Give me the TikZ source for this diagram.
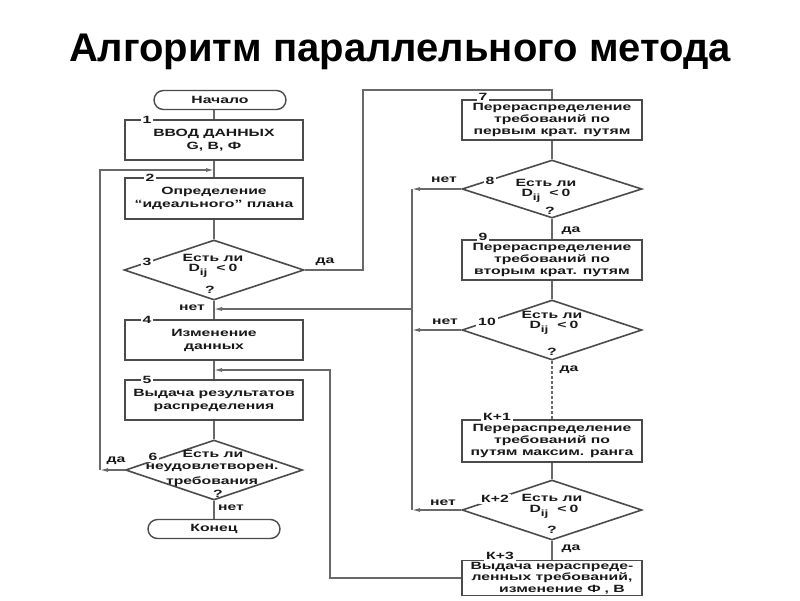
\documentclass[tikz,border=0pt]{standalone}
\usepackage{fontspec}
\setmainfont{Liberation Sans}
\newfontfamily\df{Liberation Sans}[FakeStretch=1.5]
\usetikzlibrary{shapes.geometric,arrows.meta}
\definecolor{bord}{RGB}{75,75,75}
\definecolor{conn}{RGB}{105,105,105}
\definecolor{txt}{RGB}{25,25,25}
\newcommand\Dij{D\raisebox{-3.5pt}{\fontsize{9}{9}\selectfont ij}\hspace{9pt}<\hspace{3pt}0}
\begin{document}
\begin{tikzpicture}[x=1pt,y=-1pt,
  every node/.style={inner sep=0pt, font=\df\bfseries\fontsize{10.5}{13}\selectfont, text=txt},
  box/.style={draw=bord, line width=1.6pt, minimum width=178pt, minimum height=40pt, align=center},
  rbox/.style={box, minimum width=180pt, font=\df\bfseries\fontsize{10.5}{12.3}\selectfont},
  term/.style={draw=bord, line width=1.4pt, rounded corners=9.5pt, minimum width=132pt, minimum height=19pt},
  dia/.style={draw=bord, line width=1.6pt, shape=diamond, minimum width=180pt, minimum height=60pt, inner sep=0pt},
  lbl/.style={fill=white, inner xsep=2pt, inner ysep=1pt},
  conn/.style={draw=conn, line width=1.2pt},
  arr/.style={-{Latex[length=8pt,width=4pt]}}
]
\useasboundingbox[fill=white] (0,0) rectangle (800,600);
\node[font=\fontsize{40}{42}\selectfont\bfseries, text=black, anchor=base] (title) at (400,61) {Алгоритм параллельного метода};

% left column
\node[term] (start) at (220,100) {Начало};
\node[box] (b1) at (214,140) {ВВОД ДАННЫХ\\G, B, Ф};
\node[lbl] (l1) at (147,120) {1};
\node[box, minimum height=41pt] (b2) at (214,198.5) {Определение\\“идеального” плана};
\node[lbl] (l2) at (150,178) {2};
\node[dia] (d3) at (214,270) {};
\node (t3a) at (213,258) {Есть ли};
\node (t3b) at (213,271) {\Dij};
\node (t3c) at (210,290) {?};
\node[lbl] (l3) at (147,262) {3};
\node (y3) at (325,262) {да};
\node (n3) at (192,308) {нет};
\node[box] (b4) at (214,340) {Изменение\\данных};
\node[lbl] (l4) at (147,320) {4};
\node[box] (b5) at (214,400) {Выдача результатов\\распределения};
\node[lbl] (l5) at (147,380) {5};
\node[dia, minimum width=177pt] (d6) at (214,470) {};
\node (t6a) at (213,454) {Есть ли};
\node (t6b) at (212,468) {неудовлетворен.};
\node (t6c) at (212,482) {требования};
\node (t6d) at (218,494) {?};
\node[lbl] (l6) at (153,457) {6};
\node (y6) at (116,461) {да};
\node (n6) at (231,508) {нет};
\node[term] (end) at (214,529) {Конец};

% right column
\node[rbox] (b7) at (552,120) {Перераспределение\\требований по\\первым крат. путям};
\node[lbl] (l7) at (483,96.5) {7};
\node[dia, minimum height=58pt] (d8) at (552,189) {};
\node (t8a) at (546,183) {Есть ли};
\node (t8b) at (546,196) {\Dij};
\node (t8c) at (550,211) {?};
\node[lbl] (l8) at (490,181) {8};
\node (n8) at (444,180) {нет};
\node (y8) at (571,231) {да};
\node[rbox] (b9) at (552,260) {Перераспределение\\требований по\\вторым крат. путям};
\node[lbl] (l9) at (483,236.5) {9};
\node[dia] (d10) at (552,330) {};
\node (t10a) at (552,315) {Есть ли};
\node (t10b) at (554,328) {\Dij};
\node (t10c) at (552,352) {?};
\node[lbl] (l10) at (487,322) {10};
\node (n10) at (445,322) {нет};
\node (y10) at (569,370) {да};
\node[rbox, minimum height=42pt] (bK1) at (552,441) {Перераспределение\\требований по\\путям максим. ранга};
\node[lbl] (lK1) at (497,417) {К+1};
\node[dia] (dK2) at (552,510) {};
\node (tK2a) at (552,498) {Есть ли};
\node (tK2b) at (554,512) {\Dij};
\node (tK2c) at (552,530) {?};
\node[lbl] (lK2) at (495,499) {К+2};
\node (nK2) at (443,503) {нет};
\node (yK2) at (571,549) {да};
\node[rbox, minimum height=35pt, font=\df\bfseries\fontsize{10.5}{11.8}\selectfont] (bK3) at (552,578) {Выдача нераспреде-\\ленных требований,\\\hspace*{20pt}изменение Ф\hspace{4pt}, В};
\node[lbl] (lK3) at (500,556) {К+3};

% coordinates
\coordinate (j1) at (214,170);
\coordinate (c6) at (100,470);
\coordinate (c3a) at (363,90);
\coordinate (bt) at (412,189);
\coordinate (b10) at (412,330);
\coordinate (bb) at (412,510);
\coordinate (bj) at (412,309);
\coordinate (j4) at (214,309);
\coordinate (k3b) at (330,370);
\coordinate (j5) at (214,370);

% left connectors
\draw[conn] (start.south -| b1.north) -- (b1.north);
\draw[conn] (b1) -- (b2);
\draw[conn] (b2) -- (d3);
\draw[conn] (d3) -- (b4);
\draw[conn] (b4) -- (b5);
\draw[conn] (b5) -- (d6);
\draw[conn] (d6) -- (end);
\draw[conn, arr] (d6.west) -- (c6);
\draw[conn, arr] (c6) |- (j1);
\draw[conn] (d3.east) -| (c3a) -| (b7.north);

% right connectors
\draw[conn] (b7) -- (d8);
\draw[conn] (d8) -- (b9);
\draw[conn] (b9) -- (d10);
\draw[conn, dash pattern=on 3pt off 2pt] (d10) -- (bK1);
\draw[conn] (bK1) -- (dK2);
\draw[conn] (dK2) -- (bK3);
\draw[conn, arr] (d8.west) -- (bt);
\draw[conn, arr] (d10.west) -- (b10);
\draw[conn, arr] (dK2.west) -- (bb);
\draw[conn] (bt) -- (bb);
\draw[conn, arr] (bj) -- (j4);
\draw[conn, arr] (bK3.west) -| (k3b) -- (j5);
\end{tikzpicture}
\end{document}
